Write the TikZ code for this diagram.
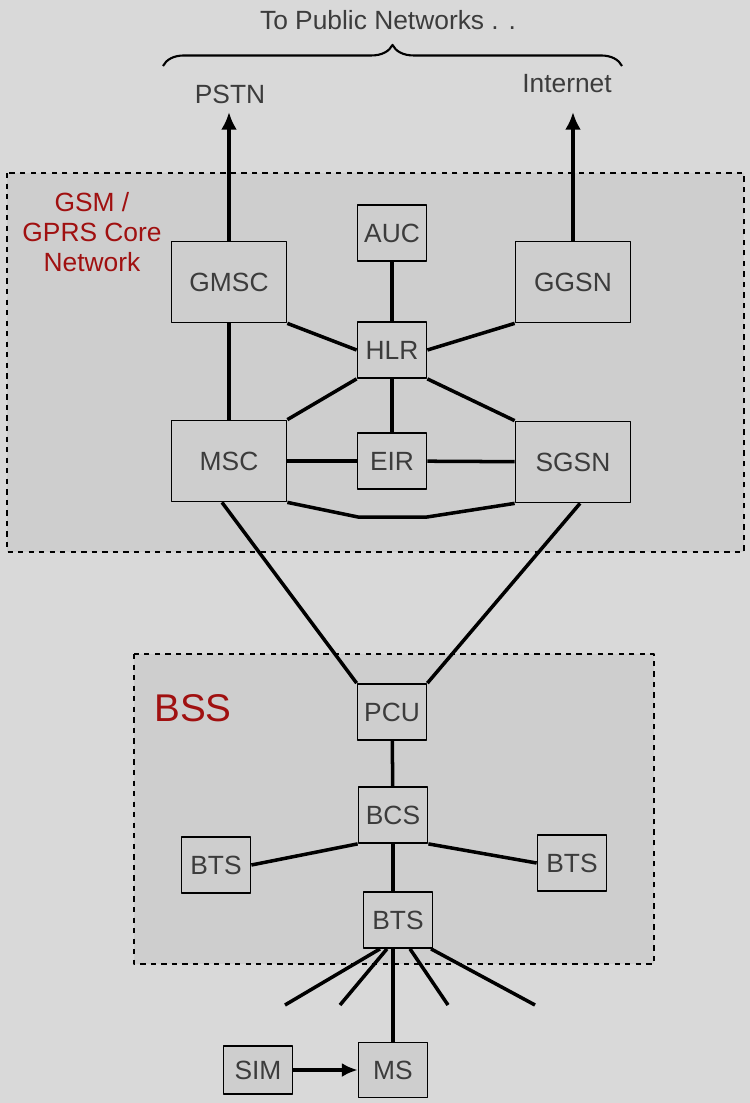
\documentclass[tikz,border=0pt]{standalone}
\usepackage{fontspec}
\setmainfont{Liberation Sans}
\usetikzlibrary{decorations.pathreplacing,arrows.meta}
\definecolor{bgray}{HTML}{D9D9D9}
\definecolor{boxgray}{HTML}{CECECE}
\definecolor{txtgray}{HTML}{3C3C3C}
\definecolor{netred}{HTML}{A01010}
\begin{document}
\begin{tikzpicture}[x=0.02cm,y=-0.02cm,line join=round,font=\fontsize{15}{17}\selectfont,
  big/.style={draw,fill=boxgray,text=txtgray,minimum width=2.3cm,minimum height=1.62cm,line width=1pt},
  small/.style={draw,fill=boxgray,text=txtgray,minimum width=1.38cm,minimum height=1.12cm,line width=1pt},
  link/.style={line width=2pt},
  up/.style={line width=2.8pt,-{Latex[length=10pt,width=9pt]}},
  region/.style={draw,dashed,fill=boxgray,line width=1pt}]
  \fill[bgray] (0,0) rectangle (750,1103);
  \useasboundingbox (0,0) rectangle (750,1103);
  % regions
  \draw[region] (7,173) rectangle (744,552);
  \draw[region] (134,654) rectangle (654,964);
  \node[text=netred,align=center] at (92,232) {GSM /\\GPRS Core\\Network};
  \node[text=netred,font=\fontsize{22}{24}\selectfont] at (193,708) {BSS};
  % public networks
  \node[text=txtgray] at (388,20) {To Public Networks . .};
  \draw[line width=1.2pt,decorate,decoration={brace,amplitude=12pt}] (163,66) -- (622,66);
  \node[text=txtgray] (pstn) at (230,94) {PSTN};
  \node[text=txtgray] (inet) at (567,84) {Internet};
  % core
  \node[big] (gmsc) at (229,282) {GMSC};
  \node[small] (auc) at (392,233) {AUC};
  \node[big] (ggsn) at (573,282) {GGSN};
  \node[small] (hlr) at (392,350) {HLR};
  \node[big] (msc) at (229,461) {MSC};
  \node[small] (eir) at (392,461) {EIR};
  \node[big] (sgsn) at (573,462) {SGSN};
  \coordinate (pstnend) at (229,112);
  \coordinate (inetend) at (573,112);
  \draw[up] (gmsc.north) -- (pstnend);
  \draw[up] (ggsn.north) -- (inetend);
  \draw[link] (auc) -- (hlr);
  \draw[link] (hlr) -- (eir);
  \draw[link] (gmsc.south) -- (msc.north);
  \draw[link] (gmsc.south east) -- (hlr.west);
  \draw[link] (hlr.east) -- (ggsn.south west);
  \draw[link] (hlr.south west) -- (msc.north east);
  \draw[link] (hlr.south east) -- (sgsn.north west);
  \draw[link] (msc) -- (eir);
  \draw[link] (eir) -- (sgsn);
  \draw[link] (msc.south east) -- (358,517) -- (427,517) -- (sgsn.south west);
  % bss
  \node[small] (pcu) at (392,712) {PCU};
  \node[small] (bcs) at (393,815) {BCS};
  \node[small] (btsl) at (216,865) {BTS};
  \node[small] (btsr) at (572,863) {BTS};
  \node[small] (btsm) at (398,920) {BTS};
  \draw[link] ([xshift=-4]msc.south) -- (pcu.north west);
  \draw[link] ([xshift=4]sgsn.south) -- (pcu.north east);
  \draw[link] (pcu) -- (bcs);
  \draw[link] (bcs.south west) -- (btsl.east);
  \draw[link] (bcs.south east) -- (btsr.west);
  \draw[link] (bcs.south) -- (btsm.north -| bcs.south);
  % air interface
  \node[small,minimum height=1.1cm] (ms) at (393,1070) {MS};
  \node[small,minimum height=0.96cm] (sim) at (258,1070) {SIM};
  \coordinate (r1) at (285,1005);
  \coordinate (r2) at (340,1005);
  \coordinate (r3) at (448,1005);
  \coordinate (r4) at (535,1005);
  \foreach \r/\dx in {r1/-18,r2/-11,r3/12,r4/33}
    \draw[link] ([shift={(\dx,0)}]btsm.south) -- (\r);
  \draw[link] (btsm.south -| ms.north) -- (ms.north);
  \draw[link,-{Latex[length=9pt,width=8pt]}] (sim) -- (ms);
\end{tikzpicture}
\end{document}
